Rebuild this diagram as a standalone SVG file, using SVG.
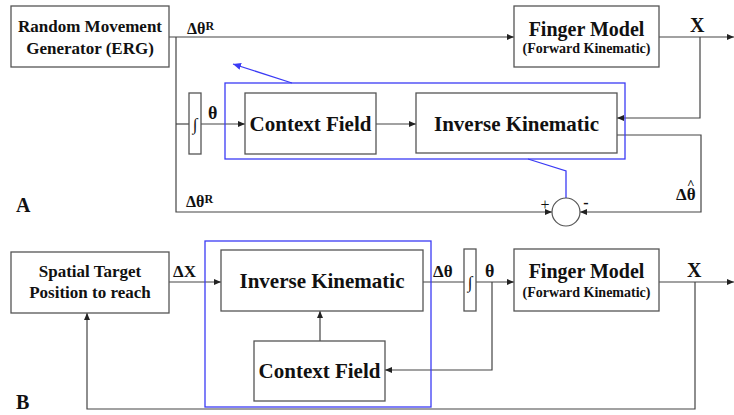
<svg xmlns="http://www.w3.org/2000/svg" width="734" height="415" viewBox="0 0 734 415">
<style>
.box{fill:#fff;stroke:#555;stroke-width:1.3}
.blue{fill:none;stroke:#3b3bf5;stroke-width:1.3}
.ln{fill:none;stroke:#444;stroke-width:1.2}
.bl{fill:none;stroke:#3b3bf5;stroke-width:1.3}
.t{font-family:"Liberation Serif","Times New Roman",serif;font-weight:bold;fill:#111}
.m{text-anchor:middle}
</style>
<defs>
<marker id="ah" markerUnits="userSpaceOnUse" markerWidth="8" markerHeight="6" refX="7" refY="3" orient="auto"><path d="M0,0 L7,3 L0,6 z" fill="#222"/></marker>
<marker id="ahb" markerUnits="userSpaceOnUse" markerWidth="9" markerHeight="7" refX="8" refY="3.5" orient="auto"><path d="M0,0 L8,3.5 L0,7 z" fill="#3b3bf5"/></marker>
</defs>
<rect width="734" height="415" fill="#fff"/>

<g id="connectors">
<path class="ln" d="M169,37 H514" marker-end="url(#ah)"/>
<path class="ln" d="M176,37 V212 H552" marker-end="url(#ah)"/>
<path class="ln" d="M176,124 H189"/>
<path class="ln" d="M201,124 H245" marker-end="url(#ah)"/>
<path class="ln" d="M376,124 H416" marker-end="url(#ah)"/>
<path class="ln" d="M659,37 H734" marker-end="url(#ah)"/>
<path class="ln" d="M700,37 V118 H617" marker-end="url(#ah)"/>
<path class="ln" d="M617,135 H701 V212 H580" marker-end="url(#ah)"/>
<path class="bl" d="M528,159 L566,171 V198"/>
<path class="bl" d="M292,83 L233,64" marker-end="url(#ahb)"/>

<path class="ln" d="M169,282 H221" marker-end="url(#ah)"/>
<path class="ln" d="M320,341 V311" marker-end="url(#ah)"/>
<path class="ln" d="M423,282 H464"/>
<path class="ln" d="M476,282 H514" marker-end="url(#ah)"/>
<path class="ln" d="M492,282 V370 H385" marker-end="url(#ah)"/>
<path class="ln" d="M659,282 H734" marker-end="url(#ah)"/>
<path class="ln" d="M695,282 V409 H87 V313" marker-end="url(#ah)"/>
</g>

<!-- Part A -->
<g id="rmg">
<rect class="box" x="11" y="6" width="158" height="61"/>
<text class="t m" x="90" y="32" font-size="17">Random Movement</text>
<text class="t m" x="90" y="54" font-size="17">Generator (ERG)</text>
</g>
<g id="fingerA">
<rect class="box" x="514" y="6" width="145" height="61"/>
<text class="t m" x="586.5" y="36" font-size="20">Finger Model</text>
<text class="t m" x="586.5" y="53" font-size="14">(Forward Kinematic)</text>
</g>
<g id="blueA">
<rect class="blue" x="225" y="83" width="400" height="76"/>
</g>
<g id="intA">
<rect class="box" x="189" y="93" width="12" height="61"/>
<text x="195" y="130" font-size="17" text-anchor="middle" font-family="Liberation Serif,serif" fill="#111">∫</text>
</g>
<g id="contextA">
<rect class="box" x="245" y="93" width="131" height="61"/>
<text class="t m" x="310.5" y="131" font-size="21">Context Field</text>
</g>
<g id="inverseA">
<rect class="box" x="416" y="93" width="201" height="60"/>
<text class="t m" x="516.5" y="131" font-size="21">Inverse Kinematic</text>
</g>
<g id="sum">
<circle cx="566" cy="212" r="14" fill="#fff" stroke="#555" stroke-width="1.2"/>
<text x="545" y="210" font-size="16" text-anchor="middle" font-family="Liberation Serif,serif" fill="#111">+</text>
<text class="t m" x="586" y="208" font-size="16">-</text>
</g>
<g id="labelsA">
<text class="t" x="187" y="34" font-size="16">Δθ<tspan font-size="12" dy="-4">R</tspan></text>
<text class="t" x="208" y="119" font-size="18">θ</text>
<text class="t" x="186" y="207" font-size="16">Δθ<tspan font-size="12" dy="-4">R</tspan></text>
<text class="t" x="690" y="32" font-size="20">X</text>
<text class="t" x="676" y="200" font-size="17">Δθ<tspan font-size="13" dx="-8.5" dy="-12">^</tspan></text>
<text class="t" x="16" y="212" font-size="20">A</text>
</g>

<!-- Part B -->
<g id="target">
<rect class="box" x="11" y="252" width="158" height="61"/>
<text class="t m" x="90" y="277" font-size="17">Spatial Target</text>
<text class="t m" x="90" y="298" font-size="17">Position to reach</text>
</g>
<g id="blueB">
<rect class="blue" x="205" y="241" width="226" height="166"/>
</g>
<g id="inverseB">
<rect class="box" x="221" y="250" width="202" height="61"/>
<text class="t m" x="322" y="288" font-size="21">Inverse Kinematic</text>
</g>
<g id="contextB">
<rect class="box" x="254" y="341" width="131" height="60"/>
<text class="t m" x="319.5" y="378" font-size="21">Context Field</text>
</g>
<g id="intB">
<rect class="box" x="464" y="249" width="12" height="62"/>
<text x="470" y="288" font-size="17" text-anchor="middle" font-family="Liberation Serif,serif" fill="#111">∫</text>
</g>
<g id="fingerB">
<rect class="box" x="514" y="249" width="145" height="62"/>
<text class="t m" x="586.5" y="278" font-size="20">Finger Model</text>
<text class="t m" x="586.5" y="297" font-size="14">(Forward Kinematic)</text>
</g>
<g id="labelsB">
<text class="t" x="173" y="277" font-size="17">ΔX</text>
<text class="t" x="433" y="277" font-size="17">Δθ</text>
<text class="t" x="485" y="277" font-size="18">θ</text>
<text class="t" x="687" y="277" font-size="20">X</text>
<text class="t" x="16" y="409" font-size="20">B</text>
</g>
</svg>
